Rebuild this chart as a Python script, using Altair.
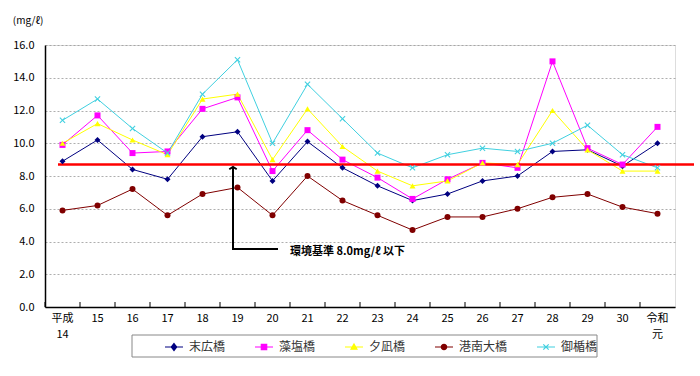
import altair as alt
import pandas as pd

years = ["平成\n14", "15", "16", "17", "18", "19", "20", "21", "22", "23",
         "24", "25", "26", "27", "28", "29", "30", "令和\n元"]
names = ["末広橋", "藻塩橋", "夕凪橋", "港南大橋", "御楯橋"]
colors = ["#000080", "#FF00FF", "#FFFF00", "#800000", "#40D0E0"]

suehiro = [8.9, 10.2, 8.4, 7.8, 10.4, 10.7, 7.7, 10.1, 8.5, 7.4, 6.5, 6.9, 7.7, 8.0, 9.5, 9.6, 8.6, 10.0]
moshio = [9.9, 11.7, 9.4, 9.5, 12.1, 12.8, 8.3, 10.8, 9.0, 7.9, 6.6, 7.8, 8.8, 8.5, 15.0, 9.7, 8.7, 11.0]
yunagi = [10.0, 11.2, 10.2, 9.3, 12.7, 13.0, 9.0, 12.1, 9.8, 8.3, 7.4, 7.7, 8.8, 8.7, 12.0, 9.6, 8.3, 8.3]
konan = [5.9, 6.2, 7.2, 5.6, 6.9, 7.3, 5.6, 8.0, 6.5, 5.6, 4.7, 5.5, 5.5, 6.0, 6.7, 6.9, 6.1, 5.7]
mitate = [11.4, 12.7, 10.9, 9.4, 13.0, 15.1, 10.0, 13.6, 11.5, 9.4, 8.5, 9.3, 9.7, 9.5, 10.0, 11.1, 9.3, 8.5]
series = [suehiro, moshio, yunagi, konan, mitate]

standard_value = [8.7]
annotation = ["環境基準 8.0mg/ℓ 以下"]
y_ticks = [0, 2, 4, 6, 8, 10, 12, 14, 16]

FONT = "Noto Sans CJK JP"

rows = []
for name, vals in zip(names, series):
    for y, v in zip(years, vals):
        rows.append({"年": y, "地点": name, "値": v})
df = pd.DataFrame(rows)
years_df = pd.DataFrame({"年": years})
one = pd.DataFrame({"値": standard_value})

plot_shapes = ["diamond", "square", "triangle-up", "circle",
               "M-1,-0.75L-0.75,-1L0,-0.25L0.75,-1L1,-0.75L0.25,0L1,0.75L0.75,1L0,0.25L-0.75,1L-1,0.75L-0.25,0Z"]
legend_shapes = [
    "M-1,0L1,0M0,-0.38L0.3,0L0,0.38L-0.3,0Z",
    "M-1,0L1,0M-0.3,-0.3L0.3,-0.3L0.3,0.3L-0.3,0.3Z",
    "M-1,0L1,0M0,-0.33L0.33,0.25L-0.33,0.25Z",
    "M-1,0L1,0M-0.3,0A0.3,0.3,0,1,0,0.3,0A0.3,0.3,0,1,0,-0.3,0Z",
    "M-1,0L1,0M-0.3,-0.3L0.3,0.3M-0.3,0.3L0.3,-0.3",
]

x_axis = alt.Axis(title=None, labelAngle=0, ticks=False, labelPadding=5,
                  labelExpr="split(datum.value, '\\n')", labelLineHeight=16,
                  labelFontSize=11, labelColor="black", labelFont=FONT,
                  labelOverlap=False,
                  domainColor="black", domainWidth=1.5, grid=False)
y_axis = alt.Axis(title="(mg/ℓ)", titleAngle=0, titleX=-2, titleY=-25,
                  titleAlign="right", titleBaseline="middle",
                  titleFontSize=10, titleFontWeight="normal", titleFont=FONT,
                  values=y_ticks, tickCount=9, format=".1f",
                  labelOverlap=False,
                  ticks=False, labelPadding=11, labelFontSize=11, labelFont=FONT,
                  labelColor="black", domainColor="black", domainWidth=1.5,
                  grid=True, gridColor="#999999", gridDash=[2, 2], gridWidth=0.8)

x_scale = alt.Scale(paddingInner=0, paddingOuter=0)
y_scale = alt.Scale(domain=[0, 16], nice=False)
x_enc = alt.X("年:N", sort=years, scale=x_scale, axis=x_axis)
y_enc = alt.Y("値:Q", scale=y_scale, axis=y_axis)

color_scale = alt.Scale(domain=names, range=colors)

lines = alt.Chart(df).mark_line(strokeWidth=1).encode(
    x=x_enc, y=y_enc,
    color=alt.Color("地点:N", scale=color_scale, legend=None),
)

points = alt.Chart(df).mark_point(filled=True, size=36, opacity=1).encode(
    x=x_enc, y=y_enc,
    color=alt.Color("地点:N", scale=color_scale, legend=None),
    shape=alt.Shape("地点:N", scale=alt.Scale(domain=names, range=plot_shapes), legend=None),
)

red = alt.Chart(one).mark_rule(color="#FF0000", strokeWidth=2.5).encode(
    y=y_enc, x=alt.value(13), x2=alt.value(649)
)

ticks = alt.Chart(years_df).mark_rule(color="black", strokeWidth=1).encode(
    x=alt.X("年:N", sort=years, bandPosition=0, scale=x_scale, axis=x_axis),
    y=alt.value(262), y2=alt.value(257)
)

blank = pd.DataFrame({"t": annotation})
arrow_v = alt.Chart(blank).mark_rule(color="black", strokeWidth=2).encode(
    x=alt.value(188), y=alt.value(123), y2=alt.value(204))
arrow_h = alt.Chart(blank).mark_rule(color="black", strokeWidth=2).encode(
    x=alt.value(187), x2=alt.value(233), y=alt.value(204))
arrow_head = alt.Chart(blank).mark_point(shape="M-1,0.6L0,0L1,0.6", size=56, color="black",
                                          strokeWidth=2, filled=False, opacity=1).encode(
    x=alt.value(188), y=alt.value(122))
note = alt.Chart(blank).mark_text(align="left", baseline="middle", fontSize=11,
                                  fontWeight="bold", font=FONT, color="black").encode(
    x=alt.value(245), y=alt.value(207), text="t:N")

legend_box = alt.Chart(blank).mark_rect(fill="white", stroke="#888888", strokeWidth=1).encode(
    x=alt.value(87), x2=alt.value(552), y=alt.value(290), y2=alt.value(312))

leg = dict(orient="none", legendX=119, legendY=292, direction="horizontal", columns=5,
           title=None, symbolSize=324, symbolStrokeWidth=1.2, labelFontSize=12,
           labelFont=FONT, labelColor="#333333", labelOffset=5, columnPadding=26, padding=0)
legend_layer = alt.Chart(df).transform_filter("false").mark_point(
    filled=True, size=324, opacity=1, strokeWidth=1.2).encode(
    fill=alt.Fill("地点:N", scale=alt.Scale(domain=names, range=colors), legend=alt.Legend(**leg)),
    stroke=alt.Stroke("地点:N", scale=alt.Scale(domain=names, range=colors), legend=alt.Legend(**leg)),
    shape=alt.Shape("地点:N", scale=alt.Scale(domain=names, range=legend_shapes), legend=alt.Legend(**leg)),
)

chart = alt.layer(
    lines, ticks, red, points, arrow_v, arrow_h, arrow_head, note, legend_box, legend_layer
).resolve_scale(
    shape="independent", fill="independent", stroke="independent"
).properties(
    width=630, height=262,
    autosize=alt.AutoSizeParams(type="none"),
    padding={"left": 45, "top": 45, "right": 25, "bottom": 69},
).configure_view(
    stroke="#333333", strokeWidth=1
).configure(font=FONT)

chart.save("out.html", embed_options={"renderer": "svg", "actions": False})
